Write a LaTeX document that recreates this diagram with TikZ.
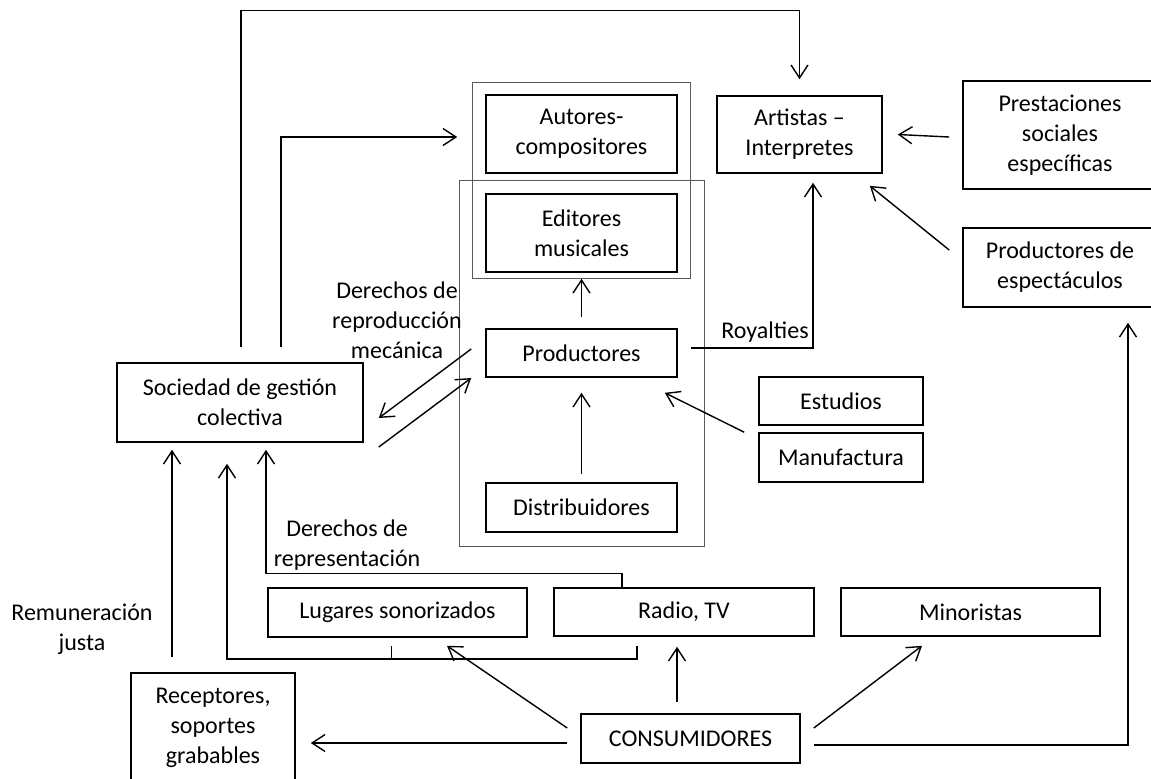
\documentclass[tikz,border=0pt]{standalone}
\usepackage{fontspec}
\setmainfont{Carlito}
\usepackage{tikz}
\usetikzlibrary{arrows.meta, positioning}

\begin{document}
\begin{tikzpicture}[
    x=0.5pt, y=-0.5pt,
    >={Straight Barb[length=6.5pt, width=8.5pt]},
    box/.style={
        rectangle,
        draw=black,
        line width=0.8pt,
        align=center,
        inner sep=0pt,
        font=\fontsize{12}{15}\selectfont
    },
    frame/.style={
        rectangle,
        draw=black!65,
        line width=0.5pt,
        inner sep=0pt
    },
    arrow/.style={
        ->,
        line width=0.7pt
    },
    edgelabel/.style={
        align=center,
        inner sep=0pt,
        font=\fontsize{12}{15}\selectfont
    }
]
\useasboundingbox (0,0) rectangle (1151,778);

% Marcos de agrupacion
\node[frame, minimum width=109pt, minimum height=98pt] (grupoautores) at (581,180) {};
\node[frame, minimum width=122.5pt, minimum height=183pt] (grupoproductores) at (581.5,363) {};

% Industria discografica
\node[box, minimum width=95.5pt, minimum height=39pt] (autores) at (581.5,134) {Autores-\\compositores};
\node[box, minimum width=95.5pt, minimum height=39pt] (editores) at (581.5,233) {Editores\\musicales};
\node[box, minimum width=95.5pt, minimum height=24pt] (productores) at (581.5,353) {Productores};
\node[box, minimum width=95.5pt, minimum height=24.5pt] (distribuidores) at (581.5,507.5) {Distribuidores};

% Artistas y entorno
\node[box, minimum width=82.5pt, minimum height=38.5pt] (artistas) at (799.5,134.5) {Artistas --\\Interpretes};
\node[box, minimum width=97pt, minimum height=54pt] (prestaciones) at (1060,135) {Prestaciones\\sociales\\específicas};
\node[box, minimum width=97pt, minimum height=39.5pt] (prodesp) at (1060,267.5) {Productores de\\espectáculos};
\node[box, minimum width=82pt, minimum height=24pt] (estudios) at (841,401) {Estudios};
\node[box, minimum width=82pt, minimum height=24.5pt] (manufactura) at (841,457.5) {Manufactura};

% Gestion colectiva y difusion
\node[box, minimum width=123pt, minimum height=39.5pt] (sociedad) at (240,402.5) {Sociedad de gestión\\colectiva};
\node[box, minimum width=129.5pt, minimum height=24.5pt] (lugares) at (397.5,612.5) {Lugares sonorizados};
\node[box, minimum width=130pt, minimum height=24pt] (radio) at (684,612) {Radio, TV};
\node[box, minimum width=129.5pt, minimum height=24pt] (minoristas) at (970.5,612) {Minoristas};
\node[box, minimum width=82pt, minimum height=55pt] (receptores) at (213,728) {Receptores,\\soportes\\grabables};
\node[box, minimum width=109.5pt, minimum height=24.5pt] (consumidores) at (690.5,738.5) {CONSUMIDORES};

% Rotulos de flujos
\node[edgelabel] (mecanica) at (397,320) {Derechos de\\reproducción\\mecánica};
\node[edgelabel] (royalties) at (765,332) {Royalties};
\node[edgelabel] (representacion) at (347,545) {Derechos de\\representación};
\node[edgelabel] (remuneracion) at (82,629) {Remuneración\\justa};

% Flujos desde la sociedad de gestion
\draw[arrow, shorten >=8pt] ([shift={(0.5pt,7.5pt)}]sociedad.north) -- ++(0,168.5pt) -| (artistas.north);
\draw[arrow, shorten >=14pt] ([shift={(20.5pt,7.5pt)}]sociedad.north) |- ([yshift=-1.5pt]autores.west);
\draw[arrow] ([shift={(-7pt,2pt)}]productores.west) -- ([shift={(7.5pt,-7.75pt)}]sociedad.east);
\draw[arrow] ([shift={(7.5pt,-22.25pt)}]sociedad.east) -- ([shift={(-7pt,-12.5pt)}]productores.west);

% Flujos hacia la sociedad de gestion
\draw[arrow] ([shift={(-20.5pt,7.5pt)}]receptores.north) -- ([shift={(-34pt,-3.5pt)}]sociedad.south);
\draw ([shift={(-3.25pt,-4pt)}]lugares.south) -- ++(0,-6.5pt);
\draw[arrow] ([shift={(-23.5pt,-4.5pt)}]radio.south) -- ++(0,-6.5pt) -| ([shift={(-6.5pt,-10.5pt)}]sociedad.south);
\draw[arrow] ([xshift=-31pt]radio.north) -- ++(0,7pt) -| ([shift={(13pt,-3.5pt)}]sociedad.south);

% Flujos de la industria
\draw[arrow, shorten <=5.5pt, shorten >=3pt] (productores.north) -- (editores.south);
\draw[arrow, shorten <=4pt, shorten >=7.5pt] (distribuidores.north) -- (productores.south);
\draw[arrow] ([xshift=-7pt]manufactura.north west) -- ([shift={(-6.5pt,-7.5pt)}]productores.south east);
\draw[arrow] ([shift={(6.5pt,2.5pt)}]productores.east) -| ([shift={(6.75pt,-4.5pt)}]artistas.south);
\draw[arrow] ([shift={(-6.5pt,-1pt)}]prestaciones.west) -- ([xshift=7.5pt]artistas.east);
\draw[arrow] ([shift={(-6.5pt,8.75pt)}]prodesp.west) -- ([shift={(-6.5pt,-6pt)}]artistas.south east);

% Flujos desde los consumidores
\draw[arrow] ([shift={(-6.5pt,-2.25pt)}]consumidores.west) -- ([shift={(7.5pt,-7.5pt)}]receptores.east);
\draw[arrow] ([shift={(-6.5pt,5.25pt)}]consumidores.west) -- ([shift={(24.75pt,-4pt)}]lugares.south);
\draw[arrow] ([shift={(-6.75pt,5.5pt)}]consumidores.north) -- ([shift={(-3.5pt,-5pt)}]radio.south);
\draw[arrow] ([shift={(6.5pt,5.25pt)}]consumidores.east) -- ([shift={(-24.25pt,-4.5pt)}]minoristas.south);
\draw[arrow] ([shift={(6.5pt,-3.25pt)}]consumidores.east) -| ([shift={(34pt,-7.5pt)}]prodesp.south);

\end{tikzpicture}
\end{document}
